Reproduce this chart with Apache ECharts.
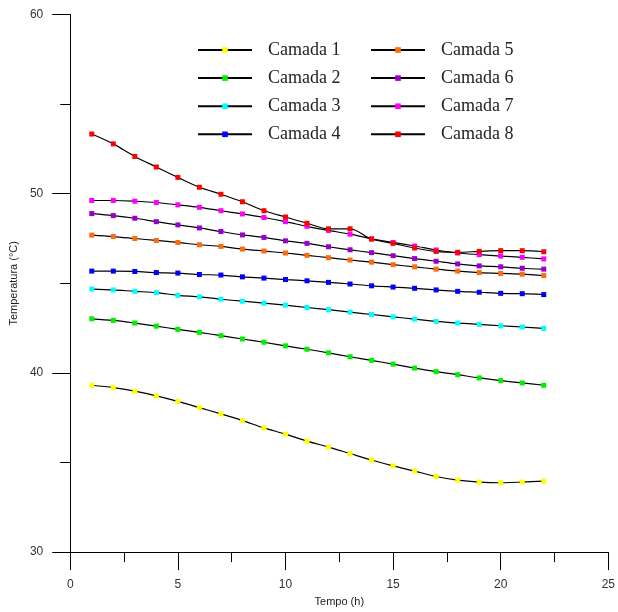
<!DOCTYPE html>
<html>
<head>
<meta charset="utf-8">
<script src="https://cdn.jsdelivr.net/npm/echarts@6/dist/echarts.min.js"></script>
<style>html,body{margin:0;padding:0;background:#fff;}#c{width:618px;height:612px;}</style>
</head>
<body>
<div id="c"></div>
<script>
const hours = [1,2,3,4,5,6,7,8,9,10,11,12,13,14,15,16,17,18,19,20,21,22];
const names = ['Camada 1','Camada 2','Camada 3','Camada 4','Camada 5','Camada 6','Camada 7','Camada 8'];
const colors = ['#FFFF00','#00F000','#00FFFF','#0000FF','#FF6A0A','#9900CC','#FF00FF','#FF0000'];
const camada1 = [39.31,39.18,38.98,38.72,38.41,38.06,37.71,37.34,36.93,36.58,36.19,35.86,35.50,35.14,34.81,34.52,34.22,34.02,33.91,33.87,33.91,33.96];
const camada2 = [43.02,42.93,42.78,42.61,42.43,42.26,42.08,41.89,41.71,41.51,41.32,41.12,40.90,40.70,40.49,40.27,40.07,39.90,39.72,39.57,39.44,39.31];
const camada3 = [44.68,44.63,44.55,44.48,44.33,44.24,44.11,44.00,43.89,43.78,43.65,43.53,43.39,43.26,43.13,43.00,42.87,42.78,42.71,42.63,42.56,42.48];
const camada4 = [45.68,45.68,45.66,45.60,45.57,45.49,45.46,45.36,45.29,45.21,45.14,45.05,44.96,44.86,44.79,44.72,44.63,44.55,44.50,44.44,44.42,44.37];
const camada5 = [47.69,47.61,47.50,47.39,47.28,47.15,47.06,46.91,46.80,46.69,46.56,46.43,46.30,46.18,46.04,45.92,45.79,45.68,45.60,45.55,45.51,45.43];
const camada6 = [48.89,48.78,48.63,48.44,48.26,48.09,47.89,47.70,47.56,47.37,47.23,47.04,46.87,46.71,46.54,46.38,46.23,46.08,45.97,45.92,45.84,45.79];
const camada7 = [49.62,49.62,49.58,49.51,49.38,49.24,49.05,48.87,48.67,48.44,48.18,47.95,47.74,47.48,47.28,47.08,46.86,46.69,46.60,46.52,46.45,46.36];
const camada8 = [53.33,52.78,52.08,51.49,50.91,50.36,49.97,49.55,49.05,48.70,48.35,48.04,48.04,47.47,47.23,46.97,46.78,46.73,46.78,46.82,46.82,46.76];
const xTicks = {min:0, max:25, interval:5};
const yTicks = {min:30, max:60, interval:10};

const allData = [camada1,camada2,camada3,camada4,camada5,camada6,camada7,camada8];
const series = allData.map((vals, i) => ({
  name: names[i],
  type: 'line',
  data: hours.map((h, j) => [h, vals[j]]),
  smooth: 0.3,
  symbol: 'rect',
  symbolSize: 5,
  showAllSymbol: true,
  itemStyle: {color: colors[i]},
  lineStyle: {color: '#000', width: 1.2},
  emphasis: {disabled: true}
}));

const axisCommon = {
  axisLine: {lineStyle: {color: '#000', width: 1}},
  axisTick: {inside: false, length: 18, lineStyle: {color: '#000', width: 1}},
  minorTick: {show: true, splitNumber: 2, length: 10, lineStyle: {color: '#000', width: 1}},
  splitLine: {show: false},
  axisLabel: {color: '#333', fontFamily: 'Liberation Sans, Arial, sans-serif', fontSize: 12, margin: 27},
  nameLocation: 'middle',
  nameTextStyle: {color: '#222', fontFamily: 'Liberation Sans, Arial, sans-serif', fontSize: 11}
};

const legendText = {fontFamily: 'Liberation Serif, Times New Roman, serif', fontSize: 18, color: '#222', padding: [0,0,0,11]};
const chart = echarts.init(document.getElementById('c'), null, {renderer: 'canvas'});
chart.setOption({
  animation: false,
  backgroundColor: '#fff',
  grid: {left: 70, right: 6, top: 14.5, bottom: 55.5, containLabel: false},
  xAxis: Object.assign({}, axisCommon, {
    type: 'value', min: xTicks.min, max: xTicks.max, interval: xTicks.interval,
    name: 'Tempo (h)', nameGap: 41
  }),
  yAxis: Object.assign({}, axisCommon, {
    type: 'value', min: yTicks.min, max: yTicks.max, interval: yTicks.interval,
    name: 'Temperatura (°C)', nameGap: 47
  }),
  legend: [
    {data: names.slice(0,4), orient: 'vertical', left: 197, top: 41, padding: 0, itemWidth: 54, itemHeight: 7, itemGap: 10.1, textStyle: legendText, selectedMode: false},
    {data: names.slice(4), orient: 'vertical', left: 370, top: 41, padding: 0, itemWidth: 54, itemHeight: 7, itemGap: 10.1, textStyle: legendText, selectedMode: false}
  ],
  series: series
});
</script>
</body>
</html>
